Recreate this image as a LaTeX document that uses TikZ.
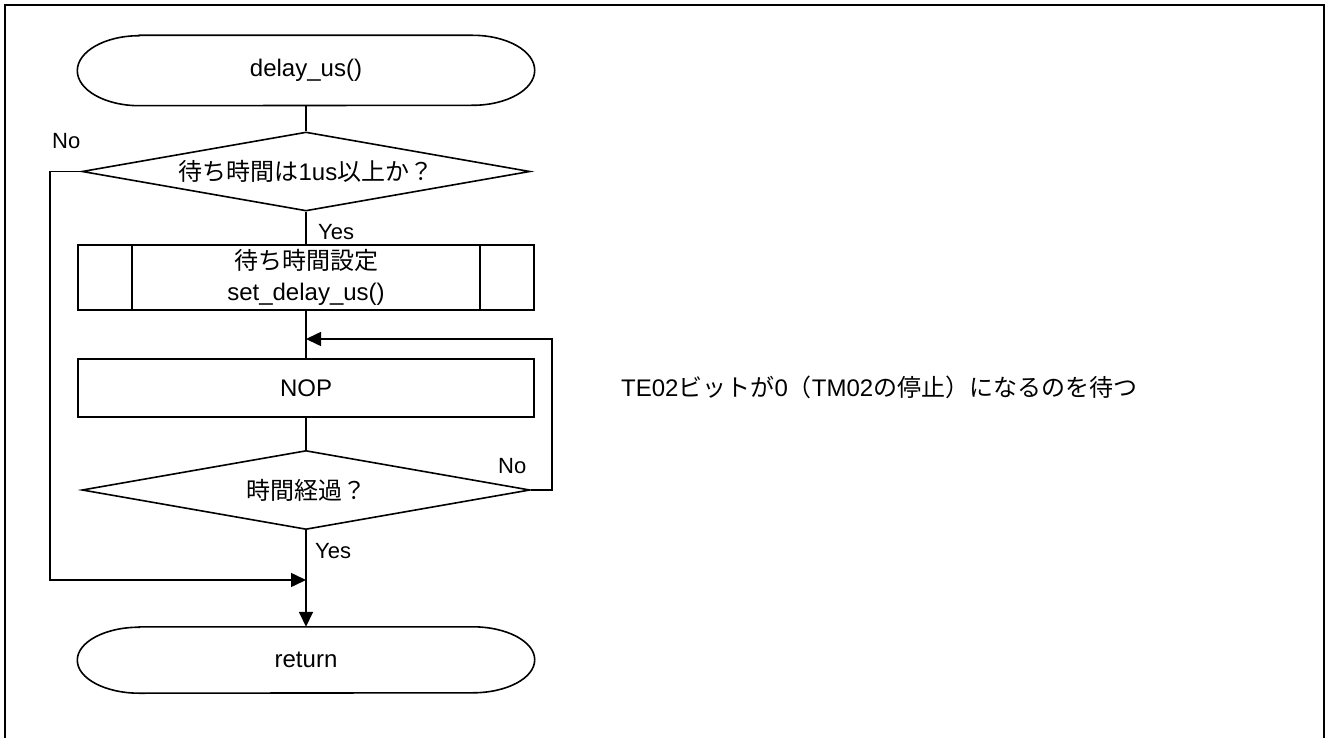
\documentclass[tikz,border=0pt]{standalone}
\usepackage{fontspec}
\setmainfont{Liberation Sans}
\newfontfamily\jp{Noto Sans CJK JP}
\usetikzlibrary{shapes.geometric,arrows.meta}
\newcommand{\drawterm}[2]{\draw[line] ([xshift=62pt]#1.north west) -- ([xshift=-62pt]#1.north east) arc[start angle=90,end angle=-90,x radius=62pt,y radius=#2] -- ([xshift=62pt]#1.south west) arc[start angle=270,end angle=90,x radius=62pt,y radius=#2] -- cycle;}
\begin{document}
\begin{tikzpicture}[x=1pt,y=1pt,
  line/.style={line width=1.6pt},
  arr/.style={line width=1.6pt,-{Triangle[length=15pt,width=14pt]}},
  boxtxt/.style={font=\fontsize{24}{31}\selectfont},
  lbl/.style={font=\fontsize{22}{26}\selectfont, inner sep=0pt},
  termnode/.style={boxtxt, minimum width=457pt, minimum height=70pt, inner sep=0pt},
  procbox/.style={boxtxt, draw, line width=1.6pt, minimum width=456pt, inner sep=0pt, align=center},
  decision/.style={boxtxt, draw, diamond, line width=1.6pt, shape aspect=5.67, minimum width=448pt, minimum height=79pt, inner sep=0pt},
]
\useasboundingbox (0,0) rectangle (1327,-738);
\draw[line width=2.2pt] (5,-745) -- (5,-5) -- (1324,-5) -- (1324,-745);

\node[termnode] (start) at (306,-70.5) {delay\_us()};
\drawterm{start}{35pt}
\node[decision] (d1) at (306,-171.5) {{\jp 待ち時間は}1us{\jp 以上か？}};
\node[procbox, minimum height=65pt] (sub) at (306,-277.5) {{\jp 待ち時間設定}\\set\_delay\_us()};
\draw[line] ([xshift=55pt]sub.north west) -- ([xshift=55pt]sub.south west);
\draw[line] ([xshift=-55pt]sub.north east) -- ([xshift=-55pt]sub.south east);
\node[procbox, minimum height=58pt] (nop) at (306,-388) {NOP};
\node[decision] (d2) at (306,-490) {{\jp 時間経過？}};
\node[termnode, minimum height=66pt] (ret) at (306,-660) {return};
\drawterm{ret}{33pt}

\coordinate (loopT) at (552,-339);
\coordinate (loopJ) at (306,-339);
\coordinate (noB) at (50,-580);
\coordinate (noJ) at (306,-580);

\draw[line] (start.south) -- (d1.north);
\draw[line] (d1.south) -- (sub.north);
\draw[line] (sub.south) -- (nop.north);
\draw[line] (nop.south) -- (d2.north);
\draw[arr] (d2.south) -- (ret.north);
\draw[arr] (d2.east) -| (loopT) -- (loopJ);
\draw[arr] (d1.west) -| (noB) -- (noJ);

\node[lbl, anchor=west] (no1) at (52,-141) {No};
\node[lbl, anchor=west] (yes1) at (318,-232) {Yes};
\node[lbl, anchor=west] (no2) at (498,-466) {No};
\node[lbl, anchor=west] (yes2) at (315,-551) {Yes};

\node[boxtxt, anchor=west, inner sep=0pt] (note) at (621,-387) {TE02{\jp ビットが}0{\jp （}TM02{\jp の停止）になるのを待つ}};
\end{tikzpicture}
\end{document}
